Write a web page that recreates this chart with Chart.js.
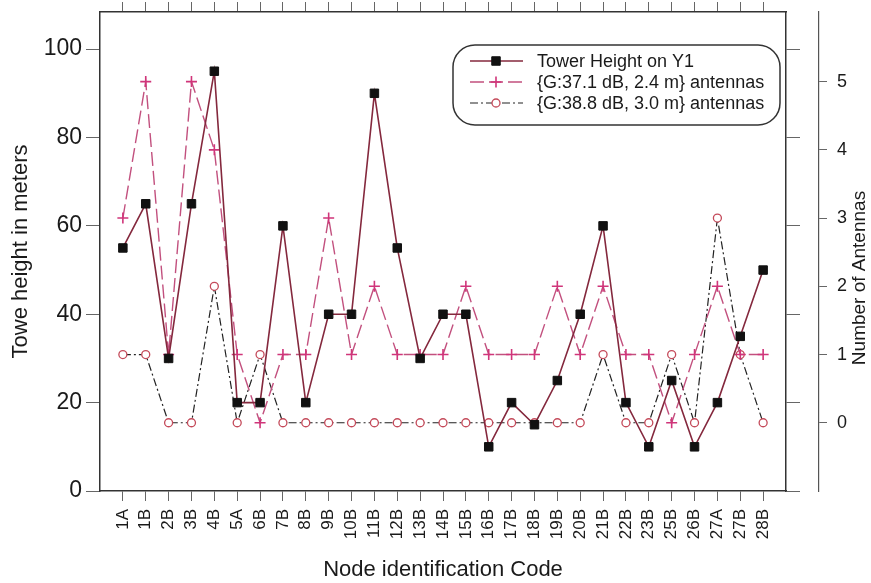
<!DOCTYPE html>
<html>
<head>
<meta charset="utf-8">
<script src="https://cdn.jsdelivr.net/npm/chart.js@4.4.1/dist/chart.umd.min.js"></script>
<style>
  html, body { margin: 0; padding: 0; background: #fff; }
  #wrap { width: 871px; height: 583px; }
</style>
</head>
<body>
<div id="wrap"><canvas id="chart" width="871" height="583"></canvas></div>
<script>
// node codes along the x axis
const nodes = ['1A', '1B', '2B', '3B', '4B', '5A', '6B', '7B', '8B', '9B', '10B', '11B', '12B', '13B', '14B',
  '15B', '16B', '17B', '18B', '19B', '20B', '21B', '22B', '23B', '25B', '26B', '27A', '27B', '28B'];

// tower height (m), left axis
const towerHeight = [55, 65, 30, 65, 95, 20, 20, 60, 20, 40, 40, 90, 55, 30, 40, 40, 10, 20, 15, 25, 40, 60, 20, 10, 25, 10, 20, 35, 50];

// number of antennas, right axis
const ant371 = [3, 5, 1, 5, 4, 1, 0, 1, 1, 3, 1, 2, 1, 1, 1, 2, 1, 1, 1, 2, 1, 2, 1, 1, 0, 1, 2, 1, 1];
const ant388 = [1, 1, 0, 0, 2, 0, 1, 0, 0, 0, 0, 0, 0, 0, 0, 0, 0, 0, 0, 0, 0, 1, 0, 0, 1, 0, 3, 1, 0];

const leftTicks = [0, 20, 40, 60, 80, 100];
const rightTicks = [0, 1, 2, 3, 4, 5];

const seriesNames = ['Tower Height on Y1', '{G:37.1 dB, 2.4 m} antennas', '{G:38.8 dB, 3.0 m} antennas'];
const rightTitle = 'Number of Antennas';

const FONT = "'Liberation Sans', Arial, sans-serif";
Chart.defaults.font.family = FONT;
Chart.defaults.color = '#1a1a1a';

const toPoints = arr => arr.map((v, i) => ({ x: i, y: v }));
const nodeTicks = s => { s.ticks = nodes.map((n, i) => ({ value: i })); };
// fixed axis sizes, no extra room for overhanging labels
const fixSize = (w, h) => s => {
  if (w) s.width = w;
  if (h) s.height = h;
  s.paddingTop = 0; s.paddingBottom = 0; s.paddingLeft = 0; s.paddingRight = 0;
};

// legend box inside the plot + right axis title reading bottom to top
const extras = {
  id: 'extras',
  afterDraw(chart) {
    const ctx = chart.ctx;
    const x0 = 453, y0 = 45, w = 327, h = 80, r = 22;
    ctx.save();
    ctx.beginPath();
    ctx.roundRect(x0, y0, w, h, r);
    ctx.fillStyle = '#fff';
    ctx.fill();
    ctx.lineWidth = 1.5;
    ctx.strokeStyle = '#333';
    ctx.stroke();

    const rows = [61, 82, 103];
    chart.data.datasets.forEach((ds, i) => {
      const y = rows[i];
      ctx.beginPath();
      ctx.setLineDash(ds.borderDash || []);
      ctx.lineWidth = ds.borderWidth;
      ctx.strokeStyle = ds.borderColor;
      ctx.moveTo(470, y);
      ctx.lineTo(523, y);
      ctx.stroke();
      ctx.setLineDash([]);
      ctx.fillStyle = ds.pointBackgroundColor;
      ctx.strokeStyle = ds.pointBorderColor;
      ctx.lineWidth = ds.pointBorderWidth;
      Chart.helpers.drawPoint(ctx, {
        pointStyle: ds.pointStyle, radius: ds.pointRadius, rotation: 0, borderWidth: ds.pointBorderWidth
      }, 496, y);
      ctx.fillStyle = '#1a1a1a';
      ctx.font = '18px ' + FONT;
      ctx.textBaseline = 'middle';
      ctx.fillText(ds.label, 537, y + 1);
    });

    ctx.translate(860, 278);
    ctx.rotate(-Math.PI / 2);
    ctx.font = '19px ' + FONT;
    ctx.textAlign = 'center';
    ctx.textBaseline = 'middle';
    ctx.fillStyle = '#1a1a1a';
    ctx.fillText(rightTitle, 0, 0);
    ctx.restore();
  }
};

new Chart(document.getElementById('chart'), {
  type: 'line',
  data: {
    datasets: [
      {
        label: seriesNames[0],
        data: toPoints(towerHeight),
        yAxisID: 'y',
        borderColor: '#84283d',
        borderWidth: 1.6,
        pointStyle: 'rect',
        pointRadius: 6,
        pointBackgroundColor: '#111',
        pointBorderColor: '#111',
        pointBorderWidth: 1,
        tension: 0,
        order: 0
      },
      {
        label: seriesNames[1],
        data: toPoints(ant371),
        yAxisID: 'y2',
        borderColor: '#c2507e',
        borderWidth: 1.4,
        borderDash: [14, 5],
        pointStyle: 'cross',
        pointRadius: 5.5,
        pointBackgroundColor: '#d0357a',
        pointBorderColor: '#d0357a',
        pointBorderWidth: 1.6,
        tension: 0,
        order: 1
      },
      {
        label: seriesNames[2],
        data: toPoints(ant388),
        yAxisID: 'y2',
        borderColor: '#222',
        borderWidth: 1.2,
        borderDash: [8, 3, 2, 3],
        pointStyle: 'circle',
        pointRadius: 4,
        pointBackgroundColor: '#fff',
        pointBorderColor: '#c44a5a',
        pointBorderWidth: 1.3,
        tension: 0,
        order: 2
      }
    ]
  },
  options: {
    responsive: false,
    animation: false,
    devicePixelRatio: 1,
    layout: { padding: 0 },
    plugins: {
      legend: { display: false },
      tooltip: { enabled: false }
    },
    scales: {
      x: {
        type: 'linear',
        position: 'bottom',
        min: -1,
        max: 29,
        afterBuildTicks: nodeTicks,
        afterFit: fixSize(0, 92),
        grid: { drawOnChartArea: false, tickLength: 10, color: '#666' },
        border: { color: '#333', width: 1.5 },
        ticks: {
          autoSkip: false,
          minRotation: 90,
          maxRotation: 90,
          padding: 8,
          font: { size: 17 },
          callback: v => nodes[v]
        },
        title: {
          display: true,
          text: 'Node identification Code',
          font: { size: 22 },
          padding: { top: 0, bottom: 0 }
        }
      },
      xTop: {
        type: 'linear',
        position: 'top',
        min: -1,
        max: 29,
        afterBuildTicks: nodeTicks,
        afterFit: fixSize(0, 12),
        grid: { drawOnChartArea: false, tickLength: 10, color: '#666' },
        border: { color: '#333', width: 1.5 },
        ticks: { display: false }
      },
      y: {
        position: 'left',
        min: 0,
        max: 108.4,
        afterBuildTicks: s => { s.ticks = leftTicks.map(v => ({ value: v })); },
        afterFit: fixSize(100, 0),
        grid: { drawOnChartArea: false, tickLength: 14, color: '#666' },
        border: { color: '#333', width: 1.5 },
        ticks: { padding: 4, font: { size: 23 } },
        title: {
          display: true,
          text: 'Towe height in meters',
          font: { size: 22 },
          padding: { top: 8, bottom: 0 }
        }
      },
      yMirror: {
        position: 'right',
        weight: 0,
        min: 0,
        max: 108.4,
        afterBuildTicks: s => { s.ticks = leftTicks.map(v => ({ value: v })); },
        afterFit: fixSize(33, 0),
        grid: { drawOnChartArea: false, tickLength: 14, color: '#666' },
        border: { color: '#333', width: 1.5 },
        ticks: { display: false }
      },
      y2: {
        position: 'right',
        weight: 1,
        min: -1,
        max: 6.02,
        afterBuildTicks: s => { s.ticks = rightTicks.map(v => ({ value: v })); },
        afterFit: fixSize(52, 0),
        grid: { drawOnChartArea: false, tickLength: 8, color: '#666' },
        border: { color: '#555', width: 1.2 },
        ticks: { padding: 10, font: { size: 18 } }
      }
    }
  },
  plugins: [extras]
});
</script>
</body>
</html>
